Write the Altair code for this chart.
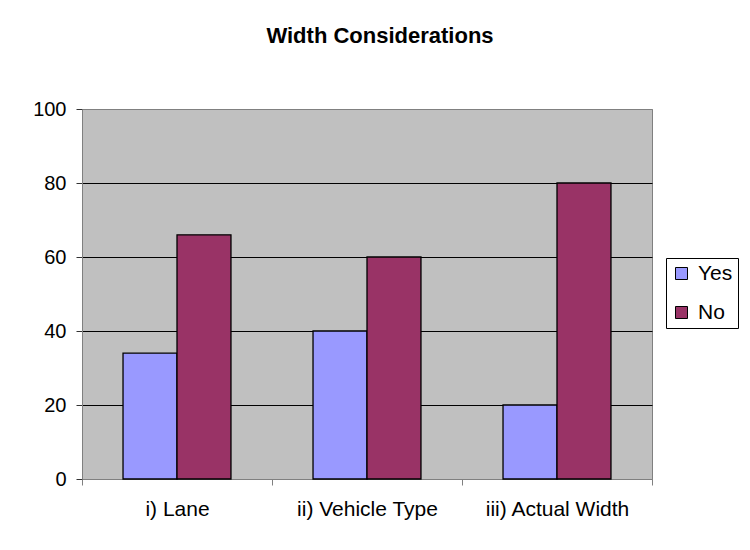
import altair as alt
import pandas as pd

categories = ["i) Lane", "ii) Vehicle Type", "iii) Actual Width"]
series = ["Yes", "No"]
yes_values = [34, 40, 20]
no_values = [66, 60, 80]
y_ticks = [0, 20, 40, 60, 80, 100]
colors = ["#9999FF", "#993366"]

rows = []
for c, y, n in zip(categories, yes_values, no_values):
    rows.append({"category": c, "series": "Yes", "value": y})
    rows.append({"category": c, "series": "No", "value": n})
df = pd.DataFrame(rows)

FONT = "Liberation Sans"

chart = (
    alt.Chart(df)
    .mark_bar(stroke="black", strokeWidth=1.3)
    .encode(
        x=alt.X(
            "category:N",
            sort=categories,
            scale=alt.Scale(paddingInner=0, paddingOuter=0),
            axis=alt.Axis(
                title=None,
                labelAngle=0,
                tickBand="extent",
                tickSize=6,
                tickColor="#808080",
                domainColor="#808080",
                labelFontSize=21,
                labelFont=FONT,
                labelColor="black",
                labelPadding=13,
            ),
        ),
        xOffset=alt.XOffset(
            "series:N",
            sort=series,
            scale=alt.Scale(paddingInner=0, paddingOuter=0.76),
        ),
        y=alt.Y(
            "value:Q",
            scale=alt.Scale(domain=[0, 100], nice=False),
            axis=alt.Axis(
                title=None,
                values=y_ticks,
                tickSize=6,
                tickColor="#333333",
                domainColor="#808080",
                grid=True,
                gridColor={
                    "condition": {
                        "test": "datum.value === 0 || datum.value === 100",
                        "value": "#808080",
                    },
                    "value": "black",
                },
                gridWidth=1,
                labelFontSize=20,
                labelFont=FONT,
                labelColor="black",
                labelPadding=10,
            ),
        ),
        color=alt.Color(
            "series:N",
            sort=series,
            scale=alt.Scale(domain=series, range=colors),
            legend=alt.Legend(
                title=None,
                orient="none",
                legendX=584,
                legendY=149,
                strokeColor="black",
                fillColor="white",
                padding=5,
                symbolType="square",
                symbolSize=144,
                symbolStrokeColor="black",
                symbolStrokeWidth=1,
                labelFontSize=21,
                labelFont=FONT,
                labelColor="black",
                labelOffset=6,
                rowPadding=17,
            ),
        ),
    )
    .properties(
        width=570,
        height=370,
        title=alt.TitleParams(
            "Width Considerations",
            font=FONT,
            fontSize=22,
            fontWeight="bold",
            color="black",
            anchor="middle",
            dx=13,
            offset=51,
        ),
        autosize=alt.AutoSizeParams(type="none"),
        padding={"left": 74, "top": 101, "right": 90, "bottom": 70},
    )
    .configure(background="white")
    .configure_view(fill="#C0C0C0", stroke="#808080", strokeWidth=1)
)

chart.save("out.html", embed_options={"renderer": "svg", "actions": False})
